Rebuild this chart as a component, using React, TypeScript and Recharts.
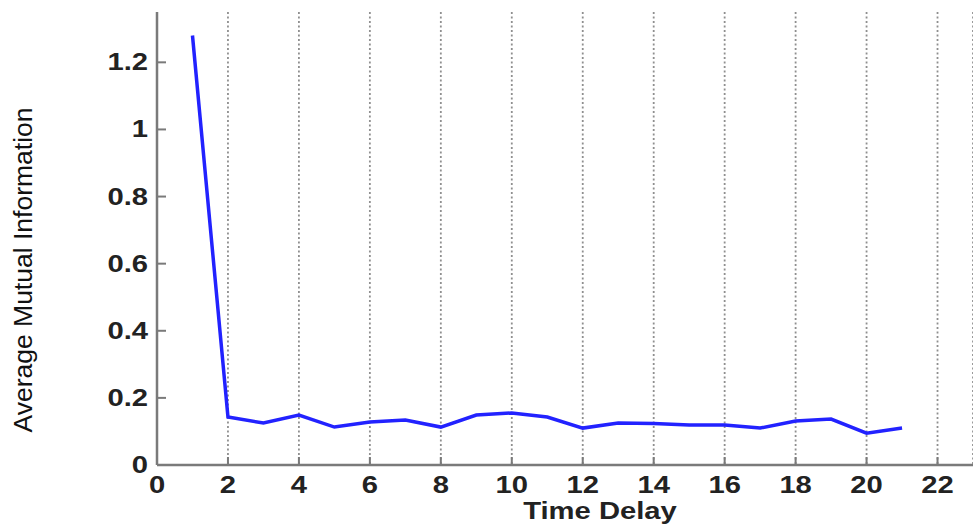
import React from "react";
import { LineChart, Line, XAxis, YAxis, CartesianGrid, Label } from "recharts";

const timeDelay = [1, 2, 3, 4, 5, 6, 7, 8, 9, 10, 11, 12, 13, 14, 15, 16, 17, 18, 19, 20, 21];
const ami = [1.28, 0.143, 0.125, 0.149, 0.113, 0.128, 0.134, 0.113, 0.149, 0.155, 0.143, 0.11, 0.125, 0.124, 0.119, 0.119, 0.11, 0.131, 0.137, 0.095, 0.11];
const xTicks = [0, 2, 4, 6, 8, 10, 12, 14, 16, 18, 20, 22];
const yTicks = [0, 0.2, 0.4, 0.6, 0.8, 1, 1.2];
const xLabel = "Time Delay";
const yLabel = "Average Mutual Information";

const data = timeDelay.map((t, i) => ({ t, v: ami[i] }));

const TICK_COLOR = "#222";
const AXIS_COLOR = "#7a7a7a";
const SX = 1.27;

const XTick = (props: any) => {
  const { x, y, payload } = props;
  return (
    <g>
      <line x1={x} x2={x} y1={y} y2={y - 8} stroke={AXIS_COLOR} strokeWidth={2} />
      <text
        transform={`translate(${x},${y + 28}) scale(${SX},1)`}
        textAnchor="middle"
        fontFamily="Liberation Sans, Arial, sans-serif"
        fontWeight="bold"
        fontSize={23}
        fill={TICK_COLOR}
      >
        {payload.value}
      </text>
    </g>
  );
};

const YTick = (props: any) => {
  const { x, y, payload } = props;
  return (
    <g>
      <line x1={x} x2={x + 9} y1={y} y2={y} stroke={AXIS_COLOR} strokeWidth={2} />
      <text
        transform={`translate(${x - 9},${y + 8}) scale(${SX},1)`}
        textAnchor="end"
        fontFamily="Liberation Sans, Arial, sans-serif"
        fontWeight="bold"
        fontSize={23}
        fill={TICK_COLOR}
      >
        {payload.value}
      </text>
    </g>
  );
};

export default function App() {
  return (
    <div style={{ position: "absolute", left: 0, top: 0, width: 973, height: 525, background: "#fff" }}>
      <LineChart width={973} height={525} data={data} margin={{ top: 12, right: 0, left: 0, bottom: 0 }}>
        <CartesianGrid horizontal={false} vertical={true} stroke="#8f8f8f" strokeDasharray="2 2.5" strokeWidth={1.8} />
        <XAxis
          dataKey="t"
          type="number"
          domain={[0, 23]}
          ticks={xTicks}
          interval={0}
          allowDataOverflow
          height={60}
          tickSize={0}
          tickMargin={0}
          tickLine={false}
          axisLine={{ stroke: AXIS_COLOR, strokeWidth: 2.5 }}
          tick={<XTick />}
        >
          <Label
            content={() => (
              <text
                transform={`translate(600,519) scale(${SX},1)`}
                textAnchor="middle"
                fontFamily="Liberation Sans, Arial, sans-serif"
                fontWeight="bold"
                fontSize={23}
                fill={TICK_COLOR}
              >
                {xLabel}
              </text>
            )}
          />
        </XAxis>
        <YAxis
          type="number"
          domain={[0, 1.35]}
          ticks={yTicks}
          interval={0}
          allowDataOverflow
          width={157}
          tickSize={0}
          tickMargin={0}
          tickLine={false}
          axisLine={{ stroke: AXIS_COLOR, strokeWidth: 2.5 }}
          tick={<YTick />}
        >
          <Label
            content={() => (
              <text
                transform="translate(32,270) rotate(-90)"
                textAnchor="middle"
                fontFamily="Liberation Sans, Arial, sans-serif"
                fontSize={26.5}
                fill="#111"
              >
                {yLabel}
              </text>
            )}
          />
        </YAxis>
        <Line
          type="linear"
          dataKey="v"
          stroke="#2222ff"
          strokeWidth={3.5}
          dot={false}
          isAnimationActive={false}
        />
      </LineChart>
    </div>
  );
}
